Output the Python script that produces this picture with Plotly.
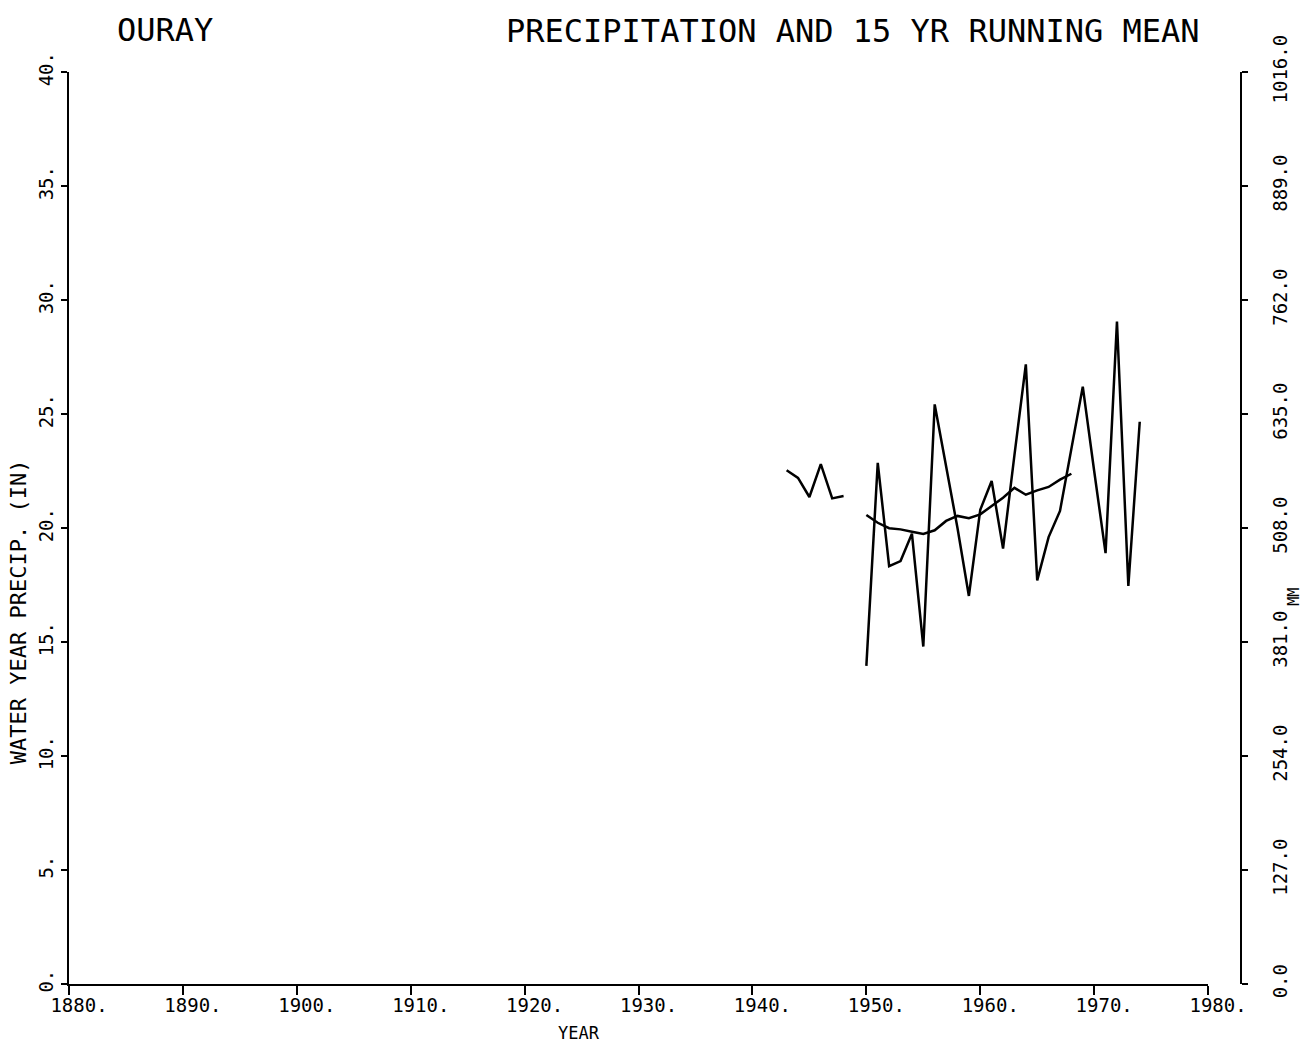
import plotly.graph_objects as go

# ---- data ----
years = list(range(1943, 1975))
precip = [22.53, 22.2, 21.36, 22.8, 21.3, 21.4, None,
          13.95, 22.86, 18.33, 18.55, 19.75, 14.8, 25.42, 22.7, 20.0, 17.02,
          20.8, 22.06, 19.1, 23.2, 27.18, 17.7, 19.6, 20.75, 23.4, 26.2,
          22.5, 18.9, 29.05, 17.46, 24.66]

mean_years = list(range(1950, 1969))
running_mean = [20.57, 20.23, 19.99, 19.94, 19.84, 19.74, 19.9, 20.31, 20.53,
                20.43, 20.6, 20.98, 21.33, 21.76, 21.46, 21.65, 21.8, 22.12, 22.38]

x_ticks = list(range(1880, 1990, 10))
x_tick_labels = [f"{y}." for y in x_ticks]
y_ticks = list(range(0, 45, 5))
y_tick_labels = [f"{v}." for v in y_ticks]
mm_ticks = [0, 127, 254, 381, 508, 635, 762, 889, 1016]
mm_tick_labels = [f"{v:.1f}" for v in mm_ticks]

# ---- layout geometry (pixels) ----
W, H = 1303, 1046
L, R_AX, X_END = 69, 1244, 1211
TOP, BOT = 72, 984
PW = R_AX - L
PH = BOT - TOP

def px(x):
    return (x - L) / PW

def py(y):
    return (BOT - y) / PH

FONT = "DejaVu Sans Mono"
tick_font = dict(family=FONT, size=19, color="black")

fig = go.Figure()
fig.add_trace(go.Scatter(x=years, y=precip, mode="lines", connectgaps=False,
                         line=dict(color="black", width=2.5), hoverinfo="skip"))
fig.add_trace(go.Scatter(x=mean_years, y=running_mean, mode="lines",
                         line=dict(color="black", width=2.5), hoverinfo="skip"))
fig.add_trace(go.Scatter(x=[None], y=[None], yaxis="y2", mode="lines",
                         hoverinfo="skip"))

fig.update_layout(
    width=W, height=H,
    margin=dict(l=L, r=W - R_AX, t=TOP, b=H - BOT, pad=0),
    plot_bgcolor="white", paper_bgcolor="white",
    showlegend=False,
    xaxis=dict(domain=[0, (X_END - L) / PW], range=[1880, 1980],
               tickvals=x_ticks, ticktext=x_tick_labels,
               ticks="outside", ticklen=9, tickwidth=2, tickcolor="black",
               showline=True, linecolor="black", linewidth=2,
               showgrid=False, zeroline=False, tickfont=tick_font,
               ticklabelshift=10, ticklabelstandoff=-6),
    yaxis=dict(range=[0, 40], tickvals=y_ticks, ticktext=y_tick_labels,
               tickangle=-90, ticks="outside", ticklen=6, tickwidth=2,
               tickcolor="black", showline=True, linecolor="black",
               linewidth=2, showgrid=False, zeroline=False,
               tickfont=tick_font),
    yaxis2=dict(overlaying="y", side="right", anchor="free", position=1.0,
                range=[0, 1016], tickvals=mm_ticks, ticktext=mm_tick_labels,
                tickangle=-90, ticks="outside", ticklen=6, tickwidth=2,
                tickcolor="black", showline=True, linecolor="black",
                linewidth=2, showgrid=False, zeroline=False,
                tickfont=tick_font, ticklabelstandoff=16),
)

ann = [
    dict(text="OURAY", x=px(165), y=py(30), size=32),
    dict(text="PRECIPITATION AND 15 YR RUNNING MEAN", x=px(855), y=py(31), size=32),
    dict(text="YEAR", x=px(580), y=py(1033), size=17),
    dict(text="WATER YEAR PRECIP. (IN)", x=px(18), y=py(612), size=22, angle=-90),
    dict(text="MM", x=px(1297), y=py(597), size=15, angle=-90),
]
for a in ann:
    fig.add_annotation(text=a["text"], x=a["x"], y=a["y"], xref="paper",
                       yref="paper", showarrow=False, xanchor="center",
                       yanchor="middle", textangle=a.get("angle", 0),
                       font=dict(family=FONT, size=a["size"], color="black"))

fig.write_html("out.html", config={"displayModeBar": False},
               post_script="document.body.style.margin='0';")
